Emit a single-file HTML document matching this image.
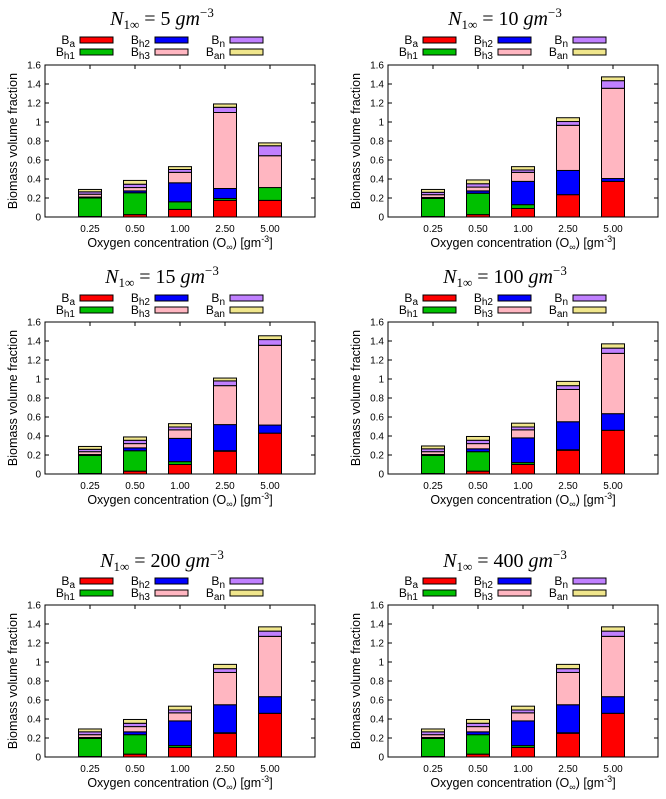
<!DOCTYPE html>
<html><head><meta charset="utf-8"><style>
html,body{margin:0;padding:0;background:#fff;}
svg{display:block;}
text{font-family:"Liberation Sans",sans-serif;fill:#000;}
.t{font-family:"Liberation Serif",serif;}
</style></head><body>
<svg id="chart" width="666" height="799" viewBox="0 0 666 799" xmlns="http://www.w3.org/2000/svg"></svg>
<script>
// Categories (oxygen concentration)
const categories = ["0.25","0.50","1.00","2.50","5.00"];
const yTicks = [0,0.2,0.4,0.6,0.8,1,1.2,1.4,1.6];
const yTickLabels = ["0","0.2","0.4","0.6","0.8","1","1.2","1.4","1.6"];
const panelTitles = ["5","10","15","100","200","400"];
const seriesNames = ["Ba","Bh1","Bh2","Bh3","Bn","Ban"];
const seriesColors = ["#ff0000","#00c000","#0000ff","#ffb6c1","#c080ff","#f0e68c"];
// Cumulative stack tops per panel: rows = categories, cols = Ba,Bh1,Bh2,Bh3,Bn,Ban
const stackN5 = [[0.005,0.2,0.21,0.24,0.265,0.29],[0.025,0.255,0.275,0.31,0.345,0.385],[0.08,0.16,0.36,0.47,0.5,0.53],[0.175,0.195,0.30,1.10,1.155,1.19],[0.175,0.31,0.31,0.645,0.75,0.78]];
const stackN10 = [[0.005,0.195,0.205,0.235,0.26,0.29],[0.025,0.25,0.275,0.315,0.35,0.39],[0.09,0.13,0.375,0.47,0.495,0.53],[0.235,0.235,0.49,0.965,1.005,1.045],[0.375,0.375,0.405,1.355,1.435,1.475]];
const stackN15 = [[0.005,0.195,0.205,0.235,0.26,0.29],[0.03,0.245,0.275,0.32,0.355,0.39],[0.10,0.13,0.375,0.465,0.495,0.53],[0.24,0.245,0.52,0.93,0.98,1.01],[0.43,0.43,0.515,1.355,1.415,1.455]];
const stackN100 = [[0.005,0.195,0.205,0.235,0.265,0.295],[0.03,0.235,0.265,0.32,0.355,0.395],[0.10,0.12,0.38,0.465,0.495,0.535],[0.25,0.255,0.55,0.89,0.93,0.975],[0.46,0.46,0.635,1.27,1.325,1.37]];
const stackN200 = [[0.005,0.195,0.205,0.235,0.265,0.295],[0.03,0.235,0.265,0.32,0.355,0.395],[0.10,0.12,0.38,0.465,0.495,0.535],[0.25,0.255,0.55,0.89,0.93,0.975],[0.46,0.46,0.635,1.27,1.325,1.37]];
const stackN400 = [[0.005,0.195,0.205,0.235,0.265,0.295],[0.03,0.235,0.265,0.32,0.355,0.395],[0.10,0.12,0.38,0.465,0.495,0.535],[0.25,0.255,0.55,0.89,0.93,0.975],[0.46,0.46,0.635,1.27,1.325,1.37]];
const panelData = [stackN5,stackN10,stackN15,stackN100,stackN200,stackN400];

const NS="http://www.w3.org/2000/svg";
const svg=document.getElementById('chart');
function mk(tag,attrs,parent){const e=document.createElementNS(NS,tag);for(const k in attrs)e.setAttribute(k,attrs[k]);(parent||svg).appendChild(e);return e;}

const rowTop=[65,322,605];
const colLeft=[45,388];
const PW=270, PH=152;

panelData.forEach((data,p)=>{
  const r=Math.floor(p/2), c=p%2;
  const x0=colLeft[c], y0=rowTop[r], dx=c===0?0:343;
  const g=mk('g',{});
  
  
  const xS=i=>x0+(i+1)*PW/6;
  const yS=v=>y0+PH-v/1.6*PH;
  // title
  const tt=mk('text',{x:162+dx,y:25,'text-anchor':'middle','font-size':20,class:'t'},g);
  
  
  tt.innerHTML='<tspan font-style="italic">N</tspan><tspan font-size="13" dy="4">1∞</tspan><tspan dy="-4"> = '+panelTitles[p]+' </tspan><tspan font-style="italic">gm</tspan><tspan font-size="13" dy="-8">−3</tspan>';
  tt.querySelectorAll('tspan').forEach(s=>s.setAttribute('class','t'));
  tt.setAttribute('y',r===0?25:(r===1?283:567));
  // legend
  const legY=r===0?37:(r===1?295:578);
  const legOrder=[[0,0,0],[1,0,1],[2,1,0],[3,1,1],[4,2,0],[5,2,1]];
  const subs=["a","h1","h2","h3","n","an"];
  legOrder.forEach(([s,col,row])=>{
    const sx=[80,155,230][col]+dx, sy=legY+row*12;
    const le=mk('g',{},g);
    
    
    const lt=mk('text',{x:sx-5,y:sy+7,'text-anchor':'end','font-size':12},le);
    lt.innerHTML='B<tspan font-size="10" dy="3">'+subs[s]+'</tspan>';
    mk('rect',{x:sx,y:sy,width:33,height:6,fill:seriesColors[s],stroke:'#000','stroke-width':1},le);
  });
  // bars
  data.forEach((tops,i)=>{
    let prev=0;
    tops.forEach((top,s)=>{
      const b=mk('rect',{x:xS(i)-11.5,y:yS(top),width:23,height:Math.max(0,yS(prev)-yS(top)),fill:seriesColors[s],stroke:'#000','stroke-width':1},g);
      
      
      prev=Math.max(prev,top);
    });
  });
  // frame
  const fr=mk('rect',{x:x0,y:y0,width:PW,height:PH,fill:'none',stroke:'#000','stroke-width':1},g);
  
  
  // y ticks
  yTicks.forEach((v,k)=>{
    mk('line',{x1:x0,x2:x0+4,y1:yS(v),y2:yS(v),stroke:'#000'},g);
    mk('line',{x1:x0+PW,x2:x0+PW-4,y1:yS(v),y2:yS(v),stroke:'#000'},g);
    const yl=mk('text',{x:x0-4,y:yS(v)+3.5,'text-anchor':'end','font-size':10},g);
    yl.textContent=yTickLabels[k];
    
    
  });
  categories.forEach((cat,i)=>{
    mk('line',{x1:xS(i),x2:xS(i),y1:y0,y2:y0+4,stroke:'#000'},g);
    const xl=mk('text',{x:xS(i),y:y0+PH+15,'text-anchor':'middle','font-size':10},g);
    xl.textContent=cat;
    
    
  });
  const xt=mk('text',{x:x0+PW/2,y:y0+PH+30,'text-anchor':'middle','font-size':12.5},g);
  xt.innerHTML='Oxygen concentration (O<tspan font-size="9" dy="3">∞</tspan><tspan dy="-3">) [gm</tspan><tspan font-size="9" dy="-5">-3</tspan><tspan dy="5">]</tspan>';
  
  
  const yt=mk('text',{x:0,y:0,'text-anchor':'middle','font-size':12.5,transform:'translate('+(x0-28)+','+(y0+PH/2)+') rotate(-90)'},g);
  yt.textContent='Biomass volume fraction';
  
  
});
</script>
</body></html>
